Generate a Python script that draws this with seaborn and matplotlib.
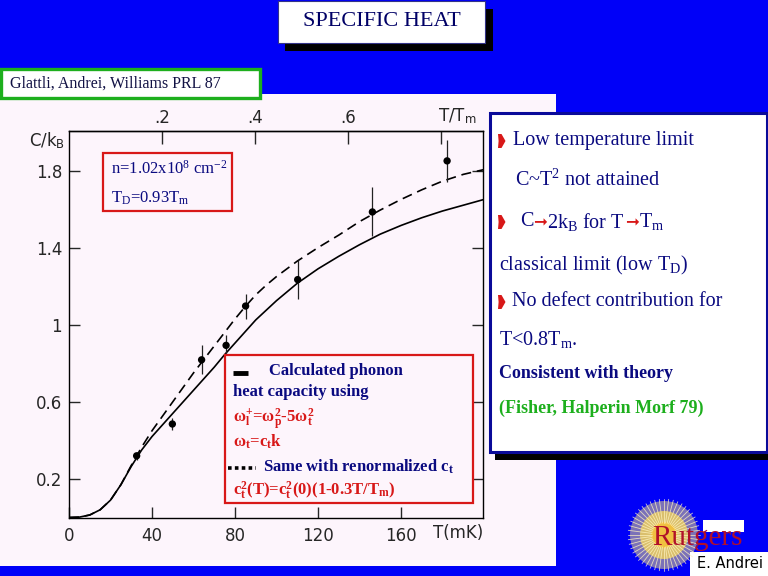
import numpy as np
import matplotlib
matplotlib.use("Agg")
import matplotlib.pyplot as plt
import seaborn as sns
from matplotlib.patches import Rectangle, Circle, Polygon

# --- data (Glattli, Andrei, Williams PRL 87) ---
T_curve = [0, 5, 10, 15, 20, 25, 30, 35, 40, 45, 50, 55, 60, 65, 70, 75, 80, 85, 90, 95, 100,
           110, 120, 130, 140, 150, 160, 170, 180, 190, 200]
C_solid = [0, 0.002, 0.013, 0.04, 0.09, 0.17, 0.265, 0.35, 0.42, 0.48, 0.54, 0.60, 0.66, 0.72, 0.78,
           0.845, 0.905, 0.965, 1.025, 1.075, 1.125, 1.215, 1.29, 1.355, 1.415, 1.47, 1.515, 1.555,
           1.59, 1.62, 1.65]
C_dashed = [0, 0.002, 0.013, 0.04, 0.09, 0.17, 0.27, 0.365, 0.45, 0.525, 0.60, 0.675, 0.75, 0.82, 0.89,
            0.96, 1.03, 1.095, 1.155, 1.205, 1.25, 1.33, 1.40, 1.465, 1.535, 1.595, 1.65, 1.70, 1.745,
            1.78, 1.805]
T_pts = [32.6, 49.8, 63.9, 75.7, 85.1, 110.2, 146.2, 182.2]
C_pts = [0.32, 0.485, 0.818, 0.893, 1.097, 1.234, 1.585, 1.85]
C_err = [0.02, 0.03, 0.075, 0.055, 0.065, 0.10, 0.127, 0.11]

Tm = 224.0
yticks = [0.2, 0.6, 1.0, 1.4, 1.8]
ytick_labels = ["0.2", "0.6", "1", "1.4", "1.8"]
xticks = [0, 40, 80, 120, 160]
top_ticks = [0.2, 0.4, 0.6, 0.8]
top_labels = [".2", ".4", ".6", ""]

sns.set_style("ticks")
plt.rcParams["font.family"] = ["DejaVu Sans"]
plt.rcParams["mathtext.fontset"] = "custom"
plt.rcParams["mathtext.rm"] = "Liberation Serif"
plt.rcParams["mathtext.it"] = "Liberation Serif:italic"
plt.rcParams["mathtext.bf"] = "Liberation Serif:bold"

BLUE = "#0000f8"
PALE = "#fdf5fc"
NAVY = "#0a0a80"
RED = "#d81818"
GREEN = "#1daf1d"
SERIF = "Liberation Serif"

fig = plt.figure(figsize=(7.68, 5.76), dpi=100)
fig.patch.set_facecolor(BLUE)

# background layer in pixel coordinates
bg = fig.add_axes([0, 0, 1, 1], zorder=0)
bg.set_xlim(0, 768)
bg.set_ylim(576, 0)
bg.axis("off")
bg.add_patch(Rectangle((0, 94), 556, 472, facecolor=PALE, edgecolor="none"))

# --- the plot ---
W, H = 768, 576
x0, x1, ytop, ybot = 69, 483, 131, 517.5
ax = fig.add_axes([x0 / W, 1 - ybot / H, (x1 - x0) / W, (ybot - ytop) / H], zorder=1)
ax.set_facecolor(PALE)

sns.lineplot(x=T_curve, y=C_solid, color="black", lw=1.2, ax=ax)
sns.lineplot(x=T_curve, y=C_dashed, color="black", lw=1.2, ax=ax, linestyle=(0, (6, 3.5)))
ax.errorbar(T_pts, C_pts, yerr=C_err, fmt="none", ecolor="#222222", elinewidth=0.9, capsize=0)
sns.scatterplot(x=T_pts, y=C_pts, color="black", s=28, edgecolor="none", ax=ax, zorder=5)

ax.set_xlim(0, 199.5)
ax.set_ylim(0, 2.005)
ax.set_xticks(xticks)
ax.set_xticklabels([str(v) for v in xticks])
ax.set_yticks(yticks)
ax.set_yticklabels(ytick_labels)
ax.set_xlabel("")
ax.set_ylabel("")
for s in ax.spines.values():
    s.set_visible(True)
    s.set_linewidth(1.0)
    s.set_color("black")
ax.tick_params(axis="x", direction="in", length=8, width=1, pad=7, labelsize=12)
ax.tick_params(axis="y", direction="in", length=8, width=1, pad=5, labelsize=12, right=True)

top = ax.secondary_xaxis("top", functions=(lambda t: t / Tm, lambda r: r * Tm))
top.set_xticks(top_ticks)
top.set_xticklabels(top_labels)
top.tick_params(direction="in", length=9, width=1, pad=3, labelsize=12)
top.spines["top"].set_linewidth(1.0)

# overlay in pixel coordinates
ov = fig.add_axes([0, 0, 1, 1], zorder=3)
ov.set_xlim(0, 768)
ov.set_ylim(576, 0)
ov.axis("off")
ov.patch.set_alpha(0)

ov.text(47, 141, r"C/k$_\mathregular{B}$", fontsize=12, ha="center", va="center")
ov.text(458, 533, "T(mK)", fontsize=12, ha="center", va="center")
ov.text(457, 116, r"T/T$_\mathregular{m}$", fontsize=12, ha="center", va="center")

# title box with shadow
ov.add_patch(Rectangle((285, 9), 208, 42, facecolor="black", edgecolor="none"))
ov.add_patch(Rectangle((278, 1), 207, 42, facecolor="white", edgecolor="#333388", lw=0.8))
ov.text(381.5, 22, "SPECIFIC HEAT", family=SERIF, fontsize=16, color="#000066", ha="center", va="center")

# citation box
ov.add_patch(Rectangle((1, 69), 259, 29, facecolor="white", edgecolor=GREEN, lw=2.4))
ov.text(10, 84, "Glattli, Andrei, Williams PRL 87", family=SERIF, fontsize=11.5, color="#111144",
        ha="left", va="center")

# density box
ov.add_patch(Rectangle((103, 153), 129, 58, facecolor=PALE, edgecolor=RED, lw=1.6))
ov.text(111, 169, r"n=1.02x10$^\mathregular{8}$ cm$^\mathregular{-2}$", family=SERIF, fontsize=12,
        color=NAVY, ha="left", va="center")
ov.text(111, 198, r"T$_\mathregular{D}$=0.93T$_\mathregular{m}$", family=SERIF, fontsize=12,
        color=NAVY, ha="left", va="center")

# legend box
leg = dict(family=SERIF, fontsize=12, weight="bold", va="center", ha="left")
ov.add_patch(Rectangle((224.5, 355), 248, 148, facecolor=PALE, edgecolor=RED, lw=1.6))
ov.plot([233, 247.5], [372.5, 372.5], color="black", lw=3.5, solid_capstyle="butt")
ov.text(269, 371, "Calculated phonon", color=NAVY, **leg)
ov.text(233, 392, "heat capacity using", color=NAVY, **leg)
ov.text(233, 419, r"ω$_\mathregular{l}^\mathregular{+}$=ω$_\mathregular{p}^\mathregular{2}$"
        r"-5ω$_\mathregular{t}^\mathregular{2}$", color=RED, **leg)
ov.text(233, 442, r"ω$_\mathregular{t}$=c$_\mathregular{t}$k", color=RED, **leg)
ov.plot([227.5, 256], [467.5, 467.5], color="black", lw=2.6, linestyle=(0, (1, 0.9)), solid_capstyle="butt")
ov.text(263, 467, r"Same with renormalized c$_\mathregular{t}$", color=NAVY, **leg)
ov.text(233, 490, r"c$_\mathregular{t}^\mathregular{2}$(T)=c$_\mathregular{t}^\mathregular{2}$(0)"
        r"(1-0.3T/T$_\mathregular{m}$)", color=RED, **leg)

# right text box with shadow
ov.add_patch(Rectangle((495, 118), 273, 342, facecolor="black", edgecolor="none"))
ov.add_patch(Rectangle((489.5, 112.5), 277, 339, facecolor="white", edgecolor="#0a0a99", lw=2.2))

renderer = fig.canvas.get_renderer()


def seq_text(x, y, parts, **kw):
    for s, c, fam, size in parts:
        t = ov.text(x, y, s, color=c, family=fam, fontsize=size, **kw)
        x += t.get_window_extent(renderer=renderer).width


def bullet(x, y):
    ov.add_patch(Polygon([(x, y - 7), (x + 3.5, y - 7), (x + 7.5, y), (x + 3.5, y + 7), (x, y + 7),
                          (x + 0.6, y)], closed=True, facecolor=RED, edgecolor="none"))


body = dict(family=SERIF, fontsize=14.5, va="center", ha="left")
bullet(498, 141)
ov.text(513, 141, "Low temperature limit", color=NAVY, **body)
ov.text(515, 180, r"C~T$^\mathregular{2}$ not attained", color=NAVY, **body)
bullet(498, 222)
seq_text(520, 222, [("C", NAVY, SERIF, 14.5), ("➞", RED, "DejaVu Sans", 12),
                    (r"2k$_\mathregular{B}$ for T", NAVY, SERIF, 14.5), ("➞", RED, "DejaVu Sans", 12),
                    (r"T$_\mathregular{m}$", NAVY, SERIF, 14.5)], va="center", ha="left")
ov.text(499, 265, r"classical limit (low T$_\mathregular{D}$)", color=NAVY, **body)
bullet(498, 302)
ov.text(512, 302, "No defect contribution for", color=NAVY, **body)
ov.text(499, 340, r"T<0.8T$_\mathregular{m}$.", color=NAVY, **body)
ov.text(499, 373, "Consistent with theory", family=SERIF, fontsize=13, weight="bold", color=NAVY,
        va="center")
ov.text(499, 408, "(Fisher, Halperin Morf 79)", family=SERIF, fontsize=13, weight="bold", color=GREEN,
        va="center")

# Rutgers logo
for r, c, a in [(34, "#f6e27a", 0.5), (24, "#f3d45a", 0.8), (13, "#f0c040", 1.0)]:
    ov.add_patch(Circle((664, 535), r, facecolor=c, edgecolor="none", alpha=a))
ang = np.linspace(0, 2 * np.pi, 48, endpoint=False)
for a_ in ang:
    ov.plot([664 + 12 * np.cos(a_), 664 + 36 * np.cos(a_)], [535 + 12 * np.sin(a_), 535 + 36 * np.sin(a_)],
            color="#fff4c0", lw=0.6, alpha=0.8)
ov.text(652, 538, "Rutgers", family=SERIF, fontsize=21, color="#b0102a", ha="left", va="center")
ov.add_patch(Rectangle((703, 520), 41, 12, facecolor="white", edgecolor="none"))
ov.add_patch(Rectangle((690, 552), 78, 24, facecolor="white", edgecolor="none"))
ov.text(697, 564, "E. Andrei", family="DejaVu Sans", fontsize=10.5, color="black", ha="left", va="center")

fig.savefig("out.png", dpi=100, facecolor=fig.get_facecolor())
